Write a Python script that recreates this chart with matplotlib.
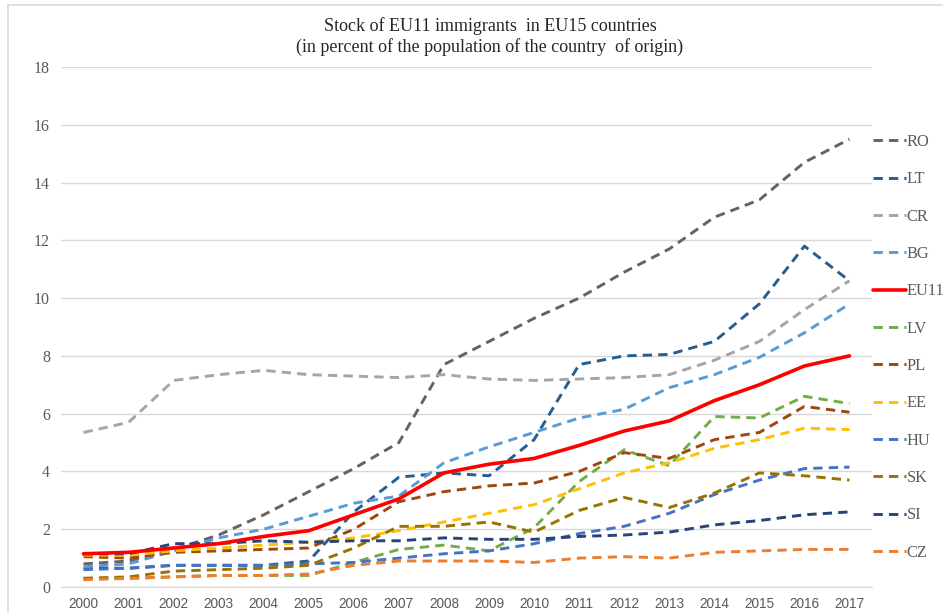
import matplotlib
matplotlib.use("Agg")
import matplotlib.pyplot as plt
from matplotlib.lines import Line2D

years = [str(y) for y in range(2000, 2018)]

RO = [0.8, 0.9, 1.3, 1.8, 2.5, 3.3, 4.1, 5.0, 7.7, 8.5, 9.3, 10.0, 10.9, 11.7, 12.8, 13.4, 14.7, 15.5]
LT = [0.65, 0.65, 0.75, 0.75, 0.75, 0.9, 2.6, 3.8, 3.95, 3.85, 5.1, 7.7, 8.0, 8.05, 8.5, 9.8, 11.8, 10.6]
CR = [5.35, 5.7, 7.15, 7.35, 7.5, 7.35, 7.3, 7.25, 7.35, 7.2, 7.15, 7.2, 7.25, 7.35, 7.85, 8.5, 9.6, 10.6]
BG = [0.7, 0.8, 1.25, 1.7, 2.0, 2.45, 2.9, 3.15, 4.3, 4.85, 5.35, 5.85, 6.15, 6.9, 7.35, 7.95, 8.8, 9.8]
EU11 = [1.15, 1.2, 1.35, 1.5, 1.75, 1.95, 2.5, 3.05, 3.95, 4.25, 4.45, 4.9, 5.4, 5.75, 6.45, 7.0, 7.65, 8.0]
LV = [0.3, 0.3, 0.35, 0.4, 0.4, 0.4, 0.85, 1.3, 1.45, 1.25, 2.05, 3.65, 4.75, 4.2, 5.9, 5.85, 6.6, 6.35]
PL = [1.05, 1.0, 1.2, 1.25, 1.3, 1.35, 2.0, 2.95, 3.3, 3.5, 3.6, 4.0, 4.65, 4.45, 5.1, 5.35, 6.25, 6.05]
EE = [1.1, 1.1, 1.25, 1.35, 1.45, 1.55, 1.7, 1.95, 2.25, 2.55, 2.85, 3.4, 3.95, 4.3, 4.8, 5.1, 5.5, 5.45]
HU = [0.6, 0.65, 0.75, 0.75, 0.75, 0.8, 0.85, 1.0, 1.15, 1.25, 1.5, 1.85, 2.1, 2.55, 3.2, 3.7, 4.1, 4.15]
SK = [0.3, 0.35, 0.55, 0.6, 0.65, 0.75, 1.35, 2.1, 2.1, 2.25, 1.9, 2.65, 3.1, 2.75, 3.25, 3.95, 3.85, 3.7]
SI = [1.15, 1.15, 1.5, 1.5, 1.6, 1.55, 1.6, 1.6, 1.7, 1.65, 1.65, 1.75, 1.8, 1.9, 2.15, 2.3, 2.5, 2.6]
CZ = [0.25, 0.3, 0.35, 0.4, 0.4, 0.45, 0.75, 0.9, 0.9, 0.9, 0.85, 1.0, 1.05, 1.0, 1.2, 1.25, 1.3, 1.3]

series = [
    ("RO", RO, "#636363"),
    ("LT", LT, "#255E91"),
    ("CR", CR, "#A5A5A5"),
    ("BG", BG, "#5B9BD5"),
    ("EU11", EU11, "#FF0000"),
    ("LV", LV, "#70AD47"),
    ("PL", PL, "#9E480E"),
    ("EE", EE, "#FFC000"),
    ("HU", HU, "#4472C4"),
    ("SK", SK, "#997300"),
    ("SI", SI, "#264478"),
    ("CZ", CZ, "#ED7D31"),
]

W, H = 943, 613
fig = plt.figure(figsize=(W / 100, H / 100), dpi=100)
ax = fig.add_axes([61 / W, 1 - 587 / H, (872 - 61) / W, (587 - 67) / H])

x = list(range(len(years)))
handles = []
for name, vals, col in series:
    if name == "EU11":
        ln, = ax.plot(x, vals, color=col, lw=2.6, solid_capstyle="round", zorder=5, label=name)
    else:
        ln, = ax.plot(x, vals, color=col, lw=2.1, linestyle=(0, (3.2, 2.1)),
                      dash_capstyle="butt", zorder=3, label=name)
    handles.append(ln)

ax.set_xlim(-0.5, len(years) - 0.5)
ax.set_ylim(0, 18)
ax.set_yticks(range(0, 19, 2))
ax.set_xticks(x)
ax.set_xticklabels(years)
ax.grid(axis="y", color="#D9D9D9", lw=1.0)
ax.set_axisbelow(True)
for s in ["top", "right", "left"]:
    ax.spines[s].set_visible(False)
ax.spines["bottom"].set_color("#D9D9D9")
ax.tick_params(length=0)
for lab in ax.get_yticklabels():
    lab.set_fontfamily("Liberation Serif")
    lab.set_fontsize(11.5)
    lab.set_color("#595959")
for lab in ax.get_xticklabels():
    lab.set_fontfamily("Liberation Sans")
    lab.set_fontsize(9.8)
    lab.set_color("#595959")
ax.tick_params(axis="y", pad=8)
ax.tick_params(axis="x", pad=7)

fig.text(490 / W, 1 - 26 / H, "Stock of EU11 immigrants  in EU15 countries",
         ha="center", va="center", fontfamily="Liberation Serif", fontsize=13, color="#262626")
fig.text(490 / W, 1 - 47 / H, "(in percent of the population of the country  of origin)",
         ha="center", va="center", fontfamily="Liberation Serif", fontsize=13, color="#262626")

leg = fig.legend(handles=handles, loc="upper left",
                 bbox_to_anchor=(865 / W, 1 - 126 / H),
                 frameon=False, handlelength=2.0, handletextpad=0.05,
                 labelspacing=1.30, borderpad=0,
                 prop={"family": "Liberation Serif", "size": 11.8})
for t in leg.get_texts():
    t.set_color("#595959")

fig.add_artist(Line2D([8 / W, 1], [1 - 5 / H, 1 - 5 / H], transform=fig.transFigure,
                      color="#D9D9D9", lw=1.2))
fig.add_artist(Line2D([8 / W, 8 / W], [0, 1 - 5 / H], transform=fig.transFigure,
                      color="#D9D9D9", lw=1.2))

fig.savefig("out.png", dpi=100)
